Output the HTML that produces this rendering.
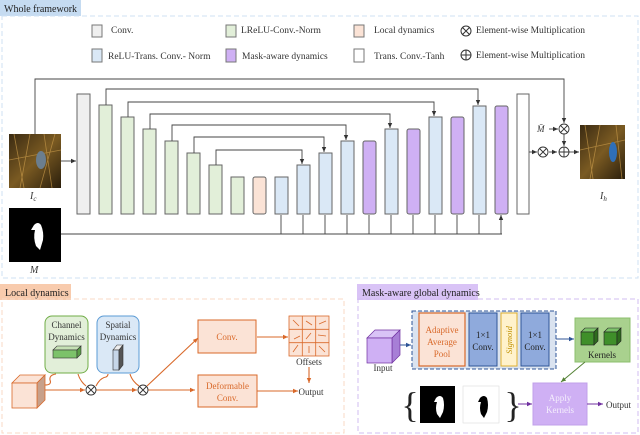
<!DOCTYPE html>
<html><head><meta charset="utf-8"><style>
html,body{margin:0;padding:0;background:#fff;}
svg{display:block;font-family:"Liberation Serif",serif;}
</style></head><body>
<svg width="640" height="435" viewBox="0 0 640 435" xmlns="http://www.w3.org/2000/svg">
<defs>
<marker id="ak" markerWidth="6" markerHeight="6" refX="5" refY="3" orient="auto" markerUnits="userSpaceOnUse"><path d="M0,0.8 L5,3 L0,5.2z" fill="#333"/></marker>
<marker id="ao" markerWidth="6" markerHeight="6" refX="5" refY="3" orient="auto" markerUnits="userSpaceOnUse"><path d="M0,0.8 L5,3 L0,5.2z" fill="#d9692a"/></marker>
<marker id="ab" markerWidth="6" markerHeight="6" refX="5" refY="3" orient="auto" markerUnits="userSpaceOnUse"><path d="M0,0.8 L5,3 L0,5.2z" fill="#2f5597"/></marker>
<marker id="ap" markerWidth="6" markerHeight="6" refX="5" refY="3" orient="auto" markerUnits="userSpaceOnUse"><path d="M0,0.8 L5,3 L0,5.2z" fill="#7030a0"/></marker>
<marker id="ag" markerWidth="6" markerHeight="6" refX="5" refY="3" orient="auto" markerUnits="userSpaceOnUse"><path d="M0,0.8 L5,3 L0,5.2z" fill="#548235"/></marker>
<linearGradient id="bird" x1="0" y1="0" x2="1" y2="1"><stop offset="0" stop-color="#3a2a12"/><stop offset="0.5" stop-color="#7a5a22"/><stop offset="1" stop-color="#2a1e0c"/></linearGradient>
</defs>

<!-- Whole framework -->
<rect x="0" y="0" width="81" height="16" fill="#c5dbf1"/>
<text x="4" y="12" font-size="10" fill="#222">Whole framework</text>
<rect x="2" y="16" width="636" height="262" fill="none" stroke="#cfe0f3" stroke-dasharray="5,3"/>

<!-- legend -->
<g font-size="9.5" fill="#333">
<rect x="92" y="25" width="10" height="12" fill="#efefef" stroke="#777"/><text x="111" y="33">Conv.</text>
<rect x="226" y="25" width="10" height="12" fill="#e2efd9" stroke="#777"/><text x="241" y="33">LReLU-Conv.-Norm</text>
<rect x="354" y="25" width="10" height="12" fill="#fbe3d6" stroke="#777"/><text x="374" y="33">Local dynamics</text>
<circle cx="466" cy="31" r="5" fill="none" stroke="#333"/><path d="M462.5,27.5 L469.5,34.5 M469.5,27.5 L462.5,34.5" stroke="#333"/><text x="476" y="33">Element-wise Multiplication</text>
<rect x="92" y="49" width="10" height="13" fill="#dae8f6" stroke="#777"/><text x="108" y="59">ReLU-Trans. Conv.- Norm</text>
<rect x="226" y="49" width="10" height="13" fill="#cfb0f4" stroke="#777"/><text x="242" y="59">Mask-aware dynamics</text>
<rect x="354" y="49" width="10" height="13" fill="#fff" stroke="#777"/><text x="374" y="59">Trans. Conv.-Tanh</text>
<circle cx="466" cy="55" r="5" fill="none" stroke="#333"/><path d="M461,55 L471,55 M466,50 L466,60" stroke="#333"/><text x="476" y="58">Element-wise Multiplication</text>
</g>

<!-- blocks -->
<g stroke="#666" stroke-width="1">
<rect x="77" y="94" width="13" height="120" fill="#efefef"/>
<rect x="99" y="105" width="13" height="109" fill="#e2efd9"/>
<rect x="121" y="117" width="13" height="97" fill="#e2efd9"/>
<rect x="143" y="129" width="13" height="85" fill="#e2efd9"/>
<rect x="165" y="141" width="13" height="73" fill="#e2efd9"/>
<rect x="187" y="153" width="13" height="61" fill="#e2efd9"/>
<rect x="209" y="165" width="13" height="49" fill="#e2efd9"/>
<rect x="231" y="177" width="13" height="37" fill="#e2efd9"/>
<rect x="253" y="177" width="13" height="37" rx="2" fill="#fbe3d6"/>
<rect x="275" y="177" width="13" height="37" fill="#dae8f6"/>
<rect x="297" y="165" width="13" height="49" fill="#dae8f6"/>
<rect x="319" y="153" width="13" height="61" fill="#dae8f6"/>
<rect x="341" y="141" width="13" height="73" fill="#dae8f6"/>
<rect x="363" y="141" width="13" height="73" rx="2" fill="#cfb0f4"/>
<rect x="385" y="129" width="13" height="85" fill="#dae8f6"/>
<rect x="407" y="129" width="13" height="85" rx="2" fill="#cfb0f4"/>
<rect x="429" y="117" width="13" height="97" fill="#dae8f6"/>
<rect x="451" y="117" width="13" height="97" rx="2" fill="#cfb0f4"/>
<rect x="473" y="106" width="13" height="108" fill="#dae8f6"/>
<rect x="495" y="106" width="13" height="108" rx="2" fill="#cfb0f4"/>
<rect x="517" y="94" width="12" height="120" fill="#fff"/>
</g>

<!-- skip connections -->
<g fill="none" stroke="#444" stroke-width="0.9">
<path d="M106,105 V89 H478 V105" marker-end="url(#ak)"/>
<path d="M128,117 V102 H434 V116" marker-end="url(#ak)"/>
<path d="M150,129 V114 H390 V128" marker-end="url(#ak)"/>
<path d="M172,141 V125 H346 V140" marker-end="url(#ak)"/>
<path d="M194,153 V137 H324 V152" marker-end="url(#ak)"/>
<path d="M216,165 V150 H302 V164" marker-end="url(#ak)"/>
<path d="M35,134 V79 H564 V123" marker-end="url(#ak)"/>
<path d="M61,161 H76" marker-end="url(#ak)"/>
<path d="M61,234 H502"/>
<path d="M281,234 V215 M303,234 V215 M325,234 V215 M347,234 V215 M369,234 V215 M391,234 V215 M413,234 V215 M435,234 V215 M457,234 V215 M479,234 V215 M501,234 V215" marker-end="url(#ak)"/>
<path d="M529,152 H537" marker-end="url(#ak)"/>
<path d="M549,152 H557" marker-end="url(#ak)"/>
<path d="M564,134 V146" marker-end="url(#ak)"/>
<path d="M549,129 H558" marker-end="url(#ak)"/>
<path d="M569,152 H579" marker-end="url(#ak)"/>
</g>
<g fill="#fff" stroke="#333" stroke-width="0.9">
<circle cx="564" cy="129" r="5"/><path d="M560.5,125.5 L567.5,132.5 M567.5,125.5 L560.5,132.5"/>
<circle cx="543" cy="152" r="5"/><path d="M539.5,148.5 L546.5,155.5 M546.5,148.5 L539.5,155.5"/>
<circle cx="564" cy="152" r="5"/><path d="M559,152 H569 M564,147 V157"/>
</g>
<text x="537" y="132" font-size="9" font-style="italic" fill="#333">M̄</text>

<!-- images -->
<rect x="9" y="134" width="52" height="54" fill="url(#bird)"/>
<g stroke="#c89a4a" stroke-width="0.8" opacity="0.7"><path d="M14,134 L24,188 M30,134 L20,188 M44,134 L52,188 M9,160 L61,150 M55,134 L40,188"/></g>
<ellipse cx="41" cy="160" rx="5" ry="9" fill="#6b7e8e"/>
<text x="30" y="199" font-size="10" font-style="italic" fill="#333">I<tspan font-size="7" dy="2">c</tspan></text>
<rect x="9" y="208" width="52" height="54" fill="#000"/>
<path d="M34,225 Q38,221 41,225 Q44,232 43,240 L40,250 L36,246 Q33,238 35,230 L31,230z" fill="#fff"/>
<text x="30" y="273" font-size="10" font-style="italic" fill="#333">M</text>
<rect x="580" y="125" width="45" height="54" fill="url(#bird)"/>
<g stroke="#c89a4a" stroke-width="0.8" opacity="0.7"><path d="M585,125 L593,179 M600,125 L590,179 M616,125 L622,179 M580,150 L625,140"/></g>
<ellipse cx="613" cy="152" rx="4" ry="10" fill="#2f6fb8"/>
<text x="600" y="199" font-size="10" font-style="italic" fill="#333">I<tspan font-size="7" dy="2">h</tspan></text>

<!-- Local dynamics -->
<rect x="0" y="284" width="71" height="16" fill="#f8cbad"/>
<text x="5" y="296" font-size="10" fill="#222">Local dynamics</text>
<rect x="2" y="299" width="342" height="134" fill="none" stroke="#f8d9c6" stroke-dasharray="5,3"/>
<g fill="none" stroke="#d9692a" stroke-width="1.1">
<path d="M45,390 H85" marker-end="url(#ao)"/>
<path d="M96,390 H137" marker-end="url(#ao)"/>
<path d="M148,390 H195" marker-end="url(#ao)"/>
<path d="M147,386 L198,338" marker-end="url(#ao)"/>
<path d="M257,337 H288" marker-end="url(#ao)"/>
<path d="M257,391 H298" marker-end="url(#ao)"/>
<path d="M309,367 V383" marker-end="url(#ao)"/>
<path d="M45,385 Q52,385 50,380 Q49,375 56,374"/>
<path d="M78,374 Q80,381 86,386"/>
<path d="M96,386 Q100,378 106,377 Q108,376 108,374"/>
<path d="M130,374 Q132,381 139,386"/>
</g>
<g fill="#fff" stroke="#333" stroke-width="0.9">
<circle cx="91" cy="390" r="5"/><path d="M87.5,386.5 L94.5,393.5 M94.5,386.5 L87.5,393.5"/>
<circle cx="143" cy="390" r="5"/><path d="M139.5,386.5 L146.5,393.5 M146.5,386.5 L139.5,393.5"/>
</g>
<path d="M12,383 L20,375 L45,375 L37,383z" fill="#fbe3d6" stroke="#d9692a" stroke-width="0.8"/>
<path d="M37,383 L45,375 L45,400 L37,408z" fill="#c7a08a" stroke="#d9692a" stroke-width="0.8"/>
<rect x="12" y="383" width="25" height="25" fill="#fbe3d6" stroke="#d9692a" stroke-width="0.8"/>
<rect x="45" y="316" width="43" height="57" rx="7" fill="#e2efd9" stroke="#70ad47"/>
<text x="66.5" y="328" font-size="9" text-anchor="middle" fill="#333">Channel</text>
<text x="66.5" y="340" font-size="9" text-anchor="middle" fill="#333">Dynamics</text>
<path d="M53,350 L57,346 L81,346 L77,350z" fill="#c5e0b4" stroke="#333" stroke-width="0.6"/>
<rect x="53" y="350" width="24" height="8" fill="#7cc26a" stroke="#333" stroke-width="0.6"/>
<path d="M77,350 L81,346 L81,354 L77,358z" fill="#5a9e47" stroke="#333" stroke-width="0.6"/>
<rect x="97" y="316" width="42" height="57" rx="7" fill="#dae8f6" stroke="#5b9bd5"/>
<text x="118" y="328" font-size="9" text-anchor="middle" fill="#333">Spatial</text>
<text x="118" y="340" font-size="9" text-anchor="middle" fill="#333">Dynamics</text>
<path d="M113,350 L117,345 L123,345 L119,350z" fill="#eee" stroke="#333" stroke-width="0.6"/>
<rect x="113" y="350" width="6" height="20" fill="#c6d6e8" stroke="#333" stroke-width="0.6"/>
<path d="M119,350 L123,345 L123,365 L119,370z" fill="#555" stroke="#333" stroke-width="0.6"/>
<rect x="198" y="320" width="58" height="33" fill="#fbe3d6" stroke="#d9692a"/>
<text x="227" y="340" font-size="9" text-anchor="middle" fill="#d9692a">Conv.</text>
<rect x="198" y="375" width="59" height="32" fill="#fbe3d6" stroke="#d9692a"/>
<text x="227.5" y="389" font-size="9" text-anchor="middle" fill="#d9692a">Deformable</text>
<text x="227.5" y="401" font-size="9" text-anchor="middle" fill="#d9692a">Conv.</text>
<g stroke="#d9692a" stroke-width="0.8">
<rect x="289" y="316" width="40" height="40" fill="#fbe3d6"/>
<path d="M302.3,316 V356 M315.7,316 V356 M289,329.3 H329 M289,342.7 H329" fill="none"/>
<path d="M299,326 L293,320 M312,325 L306,321 M319,324 L326,321 M300,336 L294,339 M306,339 L311,333 M318,335 L326,336 M293,352 L298,345 M309,346 L309,353 M319,346 L325,352" fill="none"/>
</g>
<text x="309" y="365" font-size="9" text-anchor="middle" fill="#333">Offsets</text>
<text x="311" y="395" font-size="9" text-anchor="middle" fill="#333">Output</text>

<!-- Mask-aware global dynamics -->
<rect x="357" y="284" width="121" height="16" fill="#d9c3f6"/>
<text x="362" y="296" font-size="10" fill="#222">Mask-aware global dynamics</text>
<rect x="358" y="299" width="280" height="134" fill="none" stroke="#d2bcf2" stroke-dasharray="5,3"/>
<path d="M367,338 L375,330 L400,330 L392,338z" fill="#d9c3f6" stroke="#7030a0" stroke-width="0.7"/>
<path d="M392,338 L400,330 L400,355 L392,363z" fill="#a77fd6" stroke="#7030a0" stroke-width="0.7"/>
<rect x="367" y="338" width="25" height="25" fill="#cfb0f4" stroke="#7030a0" stroke-width="0.7"/>
<text x="383" y="371" font-size="9" text-anchor="middle" fill="#333">Input</text>
<rect x="412" y="311" width="144" height="58" fill="#dae3f0" stroke="#2f5597" stroke-dasharray="4,2"/>
<rect x="419" y="313" width="46" height="53" fill="#fbe3d6" stroke="#d9692a" stroke-width="1.2"/>
<text x="442" y="333" font-size="9" text-anchor="middle" fill="#d9692a">Adaptive</text>
<text x="442" y="345" font-size="9" text-anchor="middle" fill="#d9692a">Average</text>
<text x="442" y="357" font-size="9" text-anchor="middle" fill="#d9692a">Pool</text>
<rect x="469" y="313" width="28" height="53" fill="#8faadc" stroke="#2f5597"/>
<text x="483" y="338" font-size="9" text-anchor="middle" fill="#222">1×1</text>
<text x="483" y="350" font-size="9" text-anchor="middle" fill="#222">Conv.</text>
<rect x="501" y="313" width="16" height="53" fill="#fff2cc" stroke="#e0b030"/>
<text transform="translate(512,340) rotate(-90)" font-size="8.5" font-style="italic" text-anchor="middle" fill="#c09000">Sigmoid</text>
<rect x="521" y="313" width="28" height="53" fill="#8faadc" stroke="#2f5597"/>
<text x="535" y="338" font-size="9" text-anchor="middle" fill="#222">1×1</text>
<text x="535" y="350" font-size="9" text-anchor="middle" fill="#222">Conv.</text>
<path d="M400,345 H411" stroke="#2f5597" marker-end="url(#ab)"/>
<path d="M556,339 H574" stroke="#2f5597" marker-end="url(#ab)"/>
<rect x="575" y="318" width="55" height="44" fill="#a9d18e" stroke="#8cbf6c"/>
<g stroke="#222" stroke-width="0.6">
<path d="M581,332 L585,328 L598,328 L594,332z" fill="#7cc26a"/><rect x="581" y="332" width="13" height="13" fill="#3f8f2a"/><path d="M594,332 L598,328 L598,341 L594,345z" fill="#2e6b1e"/>
<path d="M604,332 L608,328 L621,328 L617,332z" fill="#7cc26a"/><rect x="604" y="332" width="13" height="13" fill="#3f8f2a"/><path d="M617,332 L621,328 L621,341 L617,345z" fill="#2e6b1e"/>
</g>
<text x="602" y="358" font-size="9" text-anchor="middle" fill="#222">Kernels</text>
<path d="M585,362 L561,382" stroke="#548235" marker-end="url(#ag)"/>
<text x="410" y="417" font-size="36" font-family="Liberation Serif,serif" text-anchor="middle" fill="#222" font-weight="100">{</text>
<text x="513" y="417" font-size="36" font-family="Liberation Serif,serif" text-anchor="middle" fill="#222" font-weight="100">}</text>
<rect x="420" y="386" width="35" height="37" fill="#000"/>
<path d="M436,398 Q440,394 443,398 Q445,405 443,412 L440,418 L437,414 Q435,408 437,402 L434,402z" fill="#fff"/>
<rect x="463" y="386" width="36" height="37" fill="#fff" stroke="#ddd" stroke-width="0.6"/>
<path d="M480,398 Q484,394 487,398 Q489,405 487,412 L484,418 L481,414 Q479,408 481,402 L478,402z" fill="#000"/>
<path d="M518,404 H532" stroke="#7030a0" marker-end="url(#ap)"/>
<rect x="533" y="383" width="54" height="42" fill="#cfb0f4" stroke="#c0a0ea"/>
<text x="560" y="401" font-size="9" text-anchor="middle" fill="#f4eefc">Apply</text>
<text x="560" y="413" font-size="9" text-anchor="middle" fill="#f4eefc">Kernels</text>
<path d="M587,404 H603" stroke="#7030a0" marker-end="url(#ap)"/>
<text x="606" y="408" font-size="9" fill="#333">Output</text>
</svg>
</body></html>
